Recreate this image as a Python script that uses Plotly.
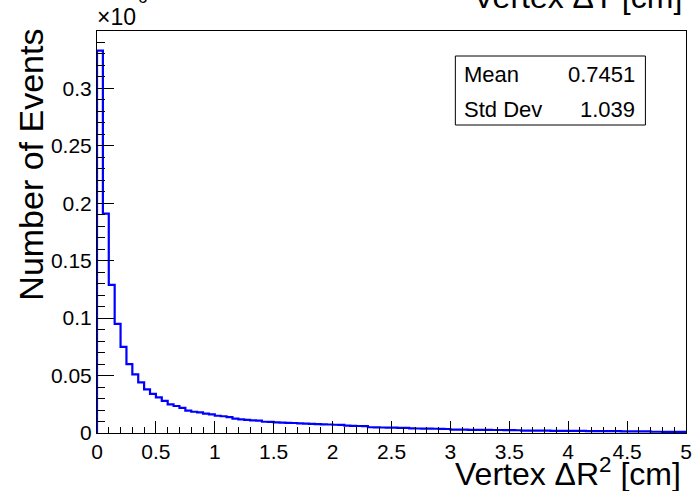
import plotly.graph_objects as go

# ---- data (bin contents in units of 10^6 events) ----
bin_low = 0.0
bin_high = 5.0
n_bins = 100
counts_1e6 = [
    0.333, 0.191, 0.129, 0.095, 0.075, 0.060, 0.051, 0.044, 0.038, 0.034,
    0.031, 0.028, 0.025, 0.0235, 0.0218, 0.0195, 0.0185, 0.0180, 0.0168, 0.0163,
    0.0150, 0.0146, 0.0139, 0.0125, 0.0118, 0.0114, 0.0110, 0.0108, 0.0098, 0.0096,
    0.0092, 0.0090, 0.0088, 0.0087, 0.0083, 0.0081, 0.0079, 0.0077, 0.0075, 0.0074,
    0.0072, 0.0070, 0.0064, 0.0062, 0.0061, 0.0059, 0.0050, 0.0049, 0.0048, 0.0047,
    0.0046, 0.0045, 0.0044, 0.0040, 0.0039, 0.0038, 0.0038, 0.0037, 0.0036, 0.0035,
    0.0030, 0.0029, 0.0029, 0.0028, 0.0028, 0.0027, 0.0027, 0.0026, 0.0026, 0.0025,
    0.0025, 0.0024, 0.0021, 0.0021, 0.0020, 0.0020, 0.0020, 0.0019, 0.0019, 0.0019,
    0.0018, 0.0018, 0.0018, 0.0017, 0.0017, 0.0017, 0.0016, 0.0016, 0.0016, 0.0015,
    0.0015, 0.0015, 0.0015, 0.0014, 0.0011, 0.0011, 0.0010, 0.0010, 0.0010, 0.0009,
]
x_tick_vals = [0, 0.5, 1, 1.5, 2, 2.5, 3, 3.5, 4, 4.5, 5]
x_tick_text = ["0", "0.5", "1", "1.5", "2", "2.5", "3", "3.5", "4", "4.5", "5"]
y_tick_vals = [0, 0.05, 0.1, 0.15, 0.2, 0.25, 0.3]
y_tick_text = ["0", "0.05", "0.1", "0.15", "0.2", "0.25", "0.3"]
stats_names = ["Mean", "Std Dev"]
stats_values = ["0.7451", "1.039"]

title_text = "Vertex \u0394T [cm]"
x_title = "Vertex \u0394R<sup>2</sup> [cm]"
y_title = "Number of Events"
exponent_base = "\u00d710"
exponent_power = "6"

# ---- layout geometry (pixels) ----
W, H = 694, 491
L, R, T, B = 97, 2, 31, 58
PW, PH = W - L - R, H - T - B
FONT = "Liberation Sans, Arial, Helvetica, sans-serif"


def px(xp):
    return (xp - L) / PW


def py(yp):
    return (H - B - yp) / PH


width = (bin_high - bin_low) / n_bins
edges = [bin_low + i * width for i in range(n_bins + 1)]
xs = [bin_low] + edges
ys = [0.0] + counts_1e6 + [counts_1e6[-1]]

fig = go.Figure()
fig.add_trace(go.Scatter(
    x=xs, y=ys, mode="lines", line=dict(color="#0000ff", width=2.2, shape="hv"),
    hoverinfo="skip", showlegend=False,
))

fig.update_layout(
    width=W, height=H,
    margin=dict(l=L, r=R, t=T, b=B, pad=0),
    paper_bgcolor="white", plot_bgcolor="white",
    font=dict(family=FONT, color="black", size=21),
    showlegend=False,
)
fig.update_xaxes(
    range=[bin_low, bin_high], showgrid=False, zeroline=False,
    showline=True, linecolor="black", linewidth=1, mirror=True,
    ticks="inside", ticklen=12, tickwidth=1, tickcolor="black",
    tickvals=x_tick_vals, ticktext=x_tick_text, ticklabeloverflow="allow",
    tickfont=dict(size=21, family=FONT, color="black"),
    minor=dict(ticks="inside", ticklen=6, tickwidth=1, tickcolor="black", dtick=0.1, showgrid=False),
)
fig.update_yaxes(
    range=[0, 0.35], showgrid=False, zeroline=False,
    showline=True, linecolor="black", linewidth=1, mirror=True,
    ticks="inside", ticklen=17, tickwidth=1, tickcolor="black",
    tickvals=y_tick_vals, ticktext=y_tick_text,
    tickfont=dict(size=21, family=FONT, color="black"),
    minor=dict(ticks="inside", ticklen=8, tickwidth=1, tickcolor="black", dtick=0.01, showgrid=False),
)

annotations = [
    dict(text=title_text, x=px(690), y=py(-3), xref="paper", yref="paper",
         xanchor="right", yanchor="middle", showarrow=False, font=dict(size=32)),
    dict(text=x_title, x=px(689), y=py(472), xref="paper", yref="paper",
         xanchor="right", yanchor="middle", showarrow=False, font=dict(size=32)),
    dict(text=y_title, x=px(30), y=py(27), xref="paper", yref="paper",
         xanchor="center", yanchor="top", textangle=-90, showarrow=False, font=dict(size=34)),
    dict(text=exponent_base, x=px(95), y=py(17), xref="paper", yref="paper",
         xanchor="left", yanchor="middle", showarrow=False, font=dict(size=23)),
    dict(text=exponent_power, x=px(136), y=py(-3), xref="paper", yref="paper",
         xanchor="left", yanchor="middle", showarrow=False, font=dict(size=17)),
]
row_y = [75, 109]
for name, val, yy in zip(stats_names, stats_values, row_y):
    annotations.append(dict(text=name, x=px(466), y=py(yy), xref="paper", yref="paper",
                            xanchor="left", yanchor="middle", showarrow=False, font=dict(size=22)))
    annotations.append(dict(text=val, x=px(643), y=py(yy), xref="paper", yref="paper",
                            xanchor="right", yanchor="middle", showarrow=False, font=dict(size=22)))
fig.update_layout(annotations=annotations)

fig.add_shape(type="rect", xref="paper", yref="paper",
              x0=px(459), x1=px(651), y0=py(125), y1=py(56),
              line=dict(color="black", width=1), fillcolor="white", layer="above")

fig.write_html("out.html")
